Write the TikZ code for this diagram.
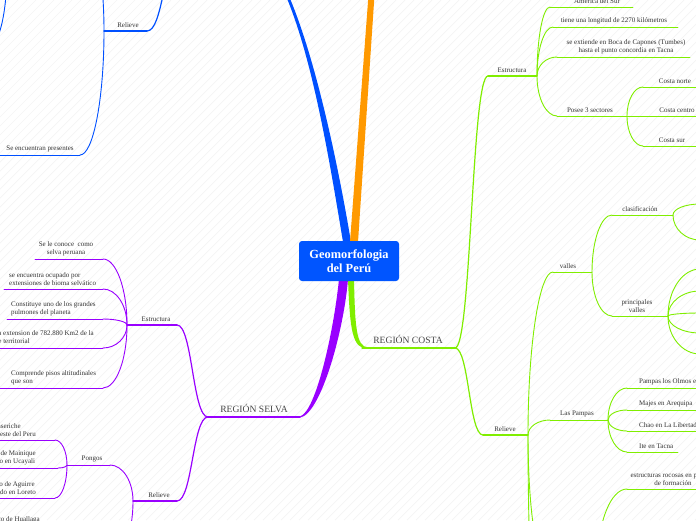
\documentclass[tikz,border=0pt]{standalone}
\usepackage{fontspec}
\setmainfont{Liberation Serif}
\usetikzlibrary{calc,backgrounds}
\definecolor{cgreen}{RGB}{128,238,0}
\definecolor{cpurple}{RGB}{153,0,255}
\definecolor{cblue}{RGB}{0,80,255}
\definecolor{corange}{RGB}{255,153,0}
\definecolor{cbox}{RGB}{0,85,255}
\definecolor{ctext}{RGB}{51,51,51}
\tikzset{
  txt/.style={font=\fontsize{7}{8}\selectfont, text=ctext, inner sep=0pt, align=center, anchor=south},
  region/.style={font=\fontsize{9.6}{11}\selectfont, text=black!72, inner sep=0pt, anchor=south},
  rootbox/.style={rectangle, rounded corners=3pt, fill=cbox, text=white, font=\bfseries\fontsize{12.4}{14}\selectfont, minimum width=100pt, minimum height=40pt, align=center, inner sep=0pt},
  g2/.style={draw=cgreen, line width=1.2pt, line cap=round},
  g3/.style={draw=cgreen, line width=0.9pt, line cap=round},
  p2/.style={draw=cpurple, line width=1.2pt, line cap=round},
  p3/.style={draw=cpurple, line width=0.9pt, line cap=round},
  b2/.style={draw=cblue, line width=1.2pt, line cap=round},
  b3/.style={draw=cblue, line width=0.9pt, line cap=round},
  stripe/.style={draw=black!4, line width=0.7pt},
}
\newcommand\sconn[3]{\draw[#1] let \p1=(#2),\p2=(#3) in (#2) .. controls ({(\x1+\x2)/2},\y1) and ({(\x1+\x2)/2},\y2) .. (#3);}
\newcommand\qconn[3]{\draw[#1] let \p1=(#2),\p2=(#3) in (#2) .. controls (\x1,{\y1+0.55*(\y2-\y1)}) and ({\x2-0.55*(\x2-\x1)},\y2) .. (#3);}
\newcommand\uline[5]{\coordinate (#2l) at (#3,#5); \coordinate (#2r) at (#4,#5); \draw[#1] (#2l) -- (#2r);}
\begin{document}
\begin{tikzpicture}[x=1pt,y=-1pt]
\useasboundingbox (0,0) rectangle (696,520);
\node[rootbox] (root) at (349,261) {Geomorfologia\\del Perú};
\begin{pgfonlayer}{background}
  \fill[white] (0,0) rectangle (696,520);
  \foreach \i in {0,9,...,1224} \draw[stripe] ({\i-520},520) -- (\i,0);
  % main branches
  \fill[cblue] (343,242) .. controls (331,170) and (313.5,60) .. (285.5,-5) -- (288.5,-5) .. controls (316.5,60) and (339,170) .. (351,242) -- cycle;
  \fill[corange] (350,242) -- (368.5,-5) -- (374.5,-5) -- (358,242) -- cycle;
  \fill[cpurple] (339,279) .. controls (334,330) and (316,412) .. (300,416.4) -- (300,417.6) .. controls (321,414) and (344,330) .. (348,279) -- cycle;
  \fill[cgreen] (348,279) .. controls (350,330) and (352,348.8) .. (368,348.8) -- (368,347.3) .. controls (356,347.3) and (355,325) .. (354,279) -- cycle;
\end{pgfonlayer}

% ---------- REGION COSTA ----------
\node[region] (costa) at (408,344) {REGIÓN COSTA};
\uline{g2}{co}{362}{455}{348}
\uline{g2}{ce}{488}{537}{76} \node[txt] (cest) at (512,73) {Estructura};
\sconn{g2}{cor}{cel}
\uline{g2}{cr}{483}{528}{435} \node[txt] (crel) at (505,432) {Relieve};
\sconn{g2}{cor}{crl}

\uline{g3}{am}{550}{633}{7} \node[txt] (am) at (597,4) {América del Sur}; \qconn{g3}{cer}{aml}
\uline{g3}{lo}{553}{678}{27} \node[txt] (lo) at (614,24) {tiene una longitud de 2270 kilómetros}; \qconn{g3}{cer}{lol}
\uline{g3}{ex}{557}{690}{57} \node[txt] (ex) at (626,54) {se extiende en Boca de Capones (Tumbes)\\hasta el punto concordia en Tacna}; \qconn{g3}{cer}{exl}
\uline{g3}{po}{557}{627}{116} \node[txt] (po) at (590,113) {Posee 3 sectores}; \qconn{g3}{cer}{pol}
\uline{g3}{cn}{643}{710}{87} \node[txt] (cn) at (675,84) {Costa norte}; \qconn{g3}{por}{cnl}
\uline{g3}{cc}{640}{710}{116} \node[txt] (cc) at (677,113) {Costa centro}; \draw[g3] (por) -- (ccl);
\uline{g3}{cs}{643}{710}{146} \node[txt] (cs) at (672,143) {Costa sur}; \qconn{g3}{por}{csl}

\uline{g3}{va}{553}{592}{272} \node[txt] (va) at (568,269) {valles}; \qconn{g3}{crr}{val}
\uline{g3}{cl}{612}{673}{215} \node[txt] (cl) at (640,212) {clasificación}; \qconn{g3}{var}{cll}
\uline{g3}{cla}{700}{760}{204} \qconn{g3}{clr}{clal}
\uline{g3}{clb}{700}{760}{240} \qconn{g3}{clr}{clbl}
\uline{g3}{pv}{612}{668}{316} \node[txt] (pv) at (637,313) {principales\\valles}; \qconn{g3}{var}{pvl}
\uline{g3}{pva}{700}{760}{269} \qconn{g3}{pvr}{pval}
\uline{g3}{pvb}{700}{760}{291} \qconn{g3}{pvr}{pvbl}
\uline{g3}{pvc}{700}{760}{313} \qconn{g3}{pvr}{pvcl}
\uline{g3}{pvd}{700}{760}{333} \qconn{g3}{pvr}{pvdl}
\uline{g3}{pve}{700}{760}{354} \qconn{g3}{pvr}{pvel}

\uline{g3}{lp}{550}{608}{420} \node[txt] (lp) at (577,417) {Las Pampas}; \qconn{g3}{crr}{lpl}
\uline{g3}{lpa}{627}{720}{388} \node[txt,anchor=south west] (lpa) at (639,385) {Pampas los Olmos en Lambayeque}; \qconn{g3}{lpr}{lpal}
\uline{g3}{lpb}{627}{720}{410} \node[txt,anchor=south west] (lpb) at (639,407) {Majes en Arequipa}; \qconn{g3}{lpr}{lpbl}
\uline{g3}{lpc}{627}{720}{431} \node[txt,anchor=south west] (lpc) at (639,428) {Chao en La Libertad}; \qconn{g3}{lpr}{lpcl}
\uline{g3}{lpd}{627}{678}{452} \node[txt,anchor=south west] (lpd) at (639,449) {Ite en Tacna}; \qconn{g3}{lpr}{lpdl}
\uline{g3}{hx}{545}{598}{560} \qconn{g3}{crr}{hxl}
\uline{g3}{er}{627}{720}{489} \node[txt] (er) at (673,486) {estructuras rocosas en proceso\\de formación}; \qconn{g3}{hxr}{erl}
\uline{g3}{hy}{545}{598}{700} \qconn{g3}{crr}{hyl}

% ---------- REGION SELVA ----------
\node[region] (selva) at (254,413) {REGIÓN SELVA};
\uline{p2}{sv}{208}{300}{417}
\uline{p2}{se}{127}{177}{325} \node[txt] (sest) at (156,322) {Estructura}; \sconn{p2}{svl}{ser}
\uline{p2}{sr}{133}{177}{501} \node[txt] (srel) at (159,498) {Relieve}; \sconn{p2}{svl}{srr}

\uline{p3}{sa}{35}{103}{259} \node[txt] (sa) at (66,256) {Se le conoce~ como\\selva peruana}; \qconn{p3}{sel}{sar}
\uline{p3}{sb}{4}{103}{289} \node[txt,align=left,anchor=south west] (sb) at (9,286) {se encuentra ocupado por\\extensiones de bioma selvático}; \qconn{p3}{sel}{sbr}
\uline{p3}{sc}{7}{103}{319} \node[txt,align=left,anchor=south west] (sc) at (11,316) {Constituye uno de los grandes\\pulmones del planeta}; \qconn{p3}{sel}{scr}
\uline{p3}{sd}{-10}{103}{348} \node[txt,align=left,anchor=south east] (sd) at (94,345) {Tiene una extension de 782.880 Km2 de la\\superficie territorial}; \qconn{p3}{sel}{sdr}
\uline{p3}{sf}{-10}{103}{388} \node[txt,align=left,anchor=south west] (sf) at (11,385) {Comprende pisos altitudinales\\que son}; \qconn{p3}{sel}{sfr}

\uline{p3}{pg}{67}{110}{465} \node[txt] (pg) at (92,462) {Pongos}; \qconn{p3}{srl}{pgr}
\uline{p3}{pa}{-10}{55}{440} \node[txt,align=left,anchor=south east] (pa) at (36,437) {Pongo de Manseriche\\ubicado al noreste del Peru}; \qconn{p3}{pgl}{par}
\uline{p3}{pb}{-10}{58}{468} \node[txt,align=left,anchor=south east] (pb) at (36,465) {Pongo de Mainique\\ubicado en Ucayali}; \qconn{p3}{pgl}{pbr}
\uline{p3}{pc}{-10}{55}{498} \node[txt,align=left,anchor=south east] (pc) at (36,495) {Pongo de Aguirre\\ubicado en Loreto}; \qconn{p3}{pgl}{pcr}
\uline{p3}{ph}{67}{110}{560} \qconn{p3}{srl}{phr}
\uline{p3}{pd}{-10}{55}{533} \node[txt,anchor=base east] (pd) at (40,521) {Pongo de Huallaga}; \qconn{p3}{phl}{pdr}

% ---------- blue (top left) ----------
\coordinate (bh) at (179,-40);
\uline{b2}{br}{104}{147}{31} \node[txt] (brel) at (128,28) {Relieve}; \sconn{b2}{bh}{brr}
\coordinate (bu) at (80,-80); \qconn{b3}{brl}{bu}
\uline{b3}{bs}{-10}{80}{155} \node[txt] (bs) at (40,152) {Se encuentran presentes}; \qconn{b3}{brl}{bsr}
\coordinate (bx1) at (7,-30); \coordinate (bx2) at (-10,45); \qconn{b3}{bx1}{bx2}
\end{tikzpicture}
\end{document}
